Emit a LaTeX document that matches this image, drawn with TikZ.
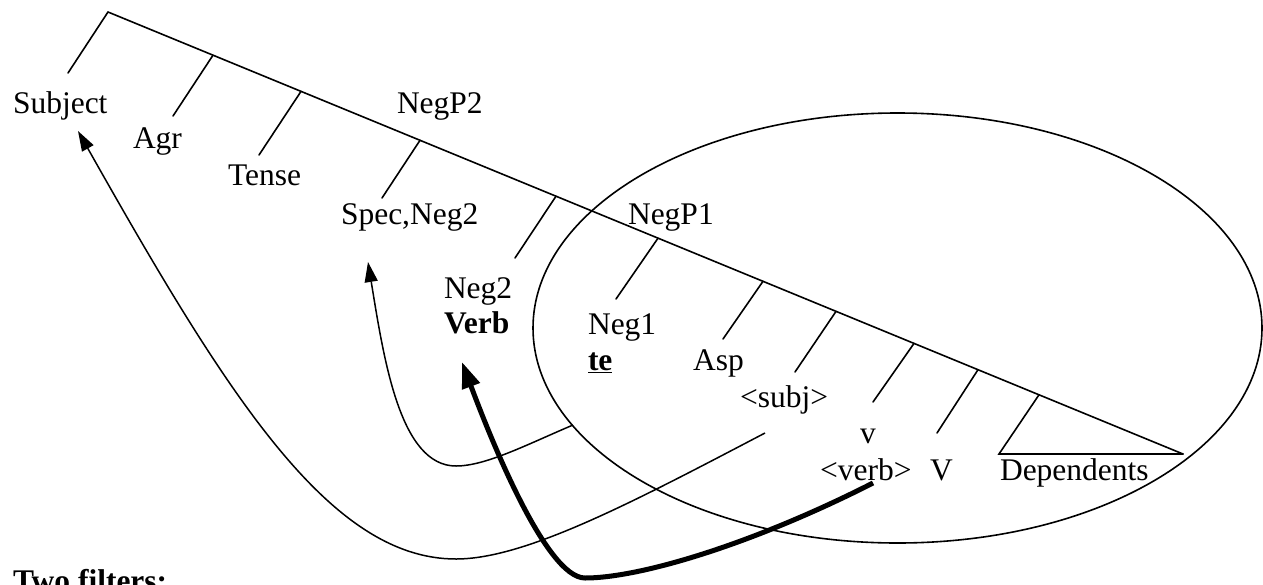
\documentclass[tikz,border=0pt]{standalone}
\usepackage{fontspec}
\setmainfont{Liberation Serif}
\usetikzlibrary{arrows.meta,calc}
\begin{document}
\begin{tikzpicture}[x=1pt,y=-1pt,
  lbl/.style={anchor=base west,inner sep=0pt,outer sep=0pt,font=\fontsize{31.5}{36}\selectfont},
  tree/.style={line width=1.6pt,line cap=round},
  thinarrow/.style={line width=1.5pt,-{Triangle[length=20pt,width=13pt]}},
  thickarrow/.style={line width=5pt,-{Triangle[length=26pt,width=18pt]}}]
\useasboundingbox (0,0) rectangle (1263,584);
% labels
\node[lbl] (subject) at (13,113) {Subject};
\node[lbl] (agr) at (133,148) {Agr};
\node[lbl] (tense) at (228,185) {Tense};
\node[lbl] (negp2) at (397,113) {NegP2};
\node[lbl] (specneg) at (341,224) {Spec,Neg2};
\node[lbl] (negp1) at (628,224) {NegP1};
\node[lbl] (neg2) at (444,298) {Neg2};
\node[lbl] (verb) at (444,333) {\bfseries Verb};
\node[lbl] (neg1) at (588,334) {Neg1};
\node[lbl] (te) at (588,370) {\bfseries\underline{te}};
\node[lbl] (asp) at (693,370) {Asp};
\node[lbl] (subj) at (740,407) {\textless subj\textgreater};
\node[lbl] (smallv) at (860,443) {v};
\node[lbl] (verbtr) at (820,480) {\textless verb\textgreater};
\node[lbl] (bigv) at (930,480) {V};
\node[lbl] (dep) at (1000,480) {Dependents};
\node[lbl] (filters) at (13,591) {\bfseries Two filters:};
% tree
\coordinate (top) at (108,12);
\coordinate (right) at (1183,454);
\coordinate (subjB) at (68,73);
\coordinate (agrT) at (213,55.2);   \coordinate (agrB) at (173,116);
\coordinate (tenseT) at (301,91.4); \coordinate (tenseB) at (259,155);
\coordinate (specT) at (420,140.3); \coordinate (specB) at (382,198);
\coordinate (negtwoT) at (556,196.2); \coordinate (negtwoB) at (515,258);
\coordinate (negoneT) at (658,238.2); \coordinate (negoneB) at (616,299);
\coordinate (aspT) at (763,281.3); \coordinate (aspB) at (723,339);
\coordinate (sbjT) at (836,311.4); \coordinate (sbjB) at (795,372);
\coordinate (vT) at (914,343.4); \coordinate (vB) at (873,402);
\coordinate (VT) at (978,369.7); \coordinate (VB) at (937,433);
\coordinate (triT) at (1039,394.8); \coordinate (triL) at (999,454);
\draw[tree] (top) -- (right);
\draw[tree] (top) -- (subjB);
\draw[tree] (agrT) -- (agrB);
\draw[tree] (tenseT) -- (tenseB);
\draw[tree] (specT) -- (specB);
\draw[tree] (negtwoT) -- (negtwoB);
\draw[tree] (negoneT) -- (negoneB);
\draw[tree] (aspT) -- (aspB);
\draw[tree] (sbjT) -- (sbjB);
\draw[tree] (vT) -- (vB);
\draw[tree] (VT) -- (VB);
\draw[tree,line join=miter] (triT) -- (triL) -- (right);
% ellipse
\draw[line width=1.6pt] (897.5,328) ellipse [x radius=364.5, y radius=215];
% arrows
\coordinate (s1) at (765,433); \coordinate (b1) at (456,559); \coordinate (t1) at (78,131);
\draw[thinarrow] (s1) .. controls (635,501) and (526,559) .. (b1)
  .. controls (330,559) and (228,397) .. (t1);
\coordinate (s2) at (573,425); \coordinate (b2) at (456,466); \coordinate (t2) at (368,262);
\draw[thinarrow] (s2) .. controls (528,444) and (486,466) .. (b2)
  .. controls (400,466) and (384,360) .. (t2);
\coordinate (s3) at (873,483); \coordinate (b3) at (585,578); \coordinate (t3) at (462,362);
\draw[thickarrow] (s3) .. controls (753,544) and (640,578) .. (b3)
  .. controls (545,578) and (487,429) .. (t3);
\end{tikzpicture}
\end{document}
